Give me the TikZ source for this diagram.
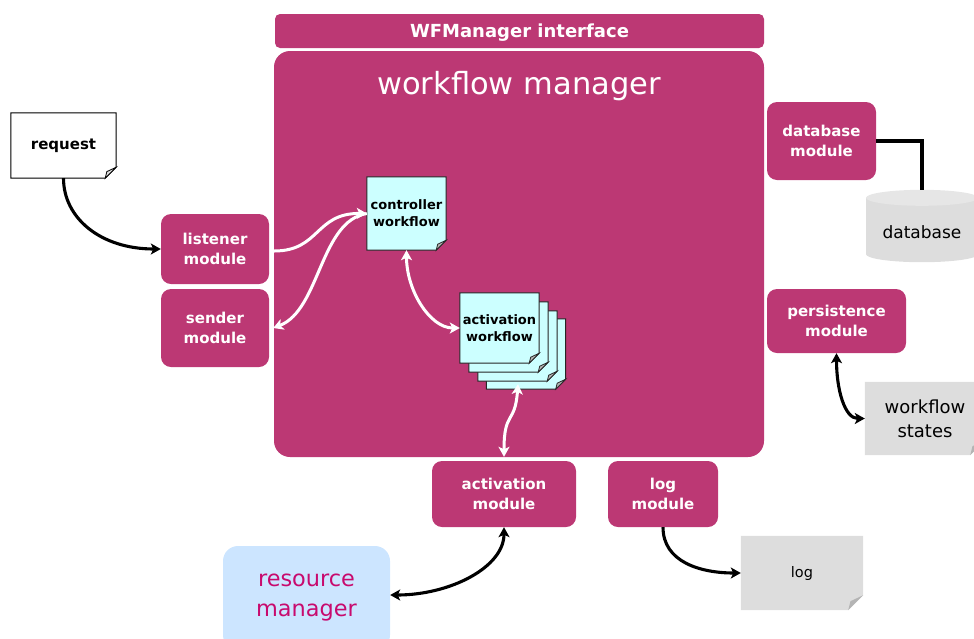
\documentclass[tikz,border=0pt]{standalone}
\usepackage{fontspec}
\setmainfont{DejaVu Sans}
\usetikzlibrary{arrows.meta,calc}

\definecolor{wfmag}{HTML}{BC3874}
\definecolor{wfcyan}{HTML}{CCFFFF}
\definecolor{wfgray}{HTML}{DDDDDD}
\definecolor{wftop}{HTML}{E6E6E6}
\definecolor{wffold}{HTML}{B4B4B4}
\definecolor{rmblue}{HTML}{CCE5FF}
\definecolor{rmtext}{HTML}{C80A6E}

\pgfdeclarelayer{back}
\pgfdeclarelayer{sheets}
\pgfsetlayers{back,sheets,main}

% folded-corner sheet drawn around node #1, shifted by (#2,#3), fold size #4
\newcommand\docsheet[6]{%
  \path[#5] ($(#1.north west)+(#2,#3)$) -- ($(#1.north east)+(#2,#3)$)
    -- ($(#1.south east)+(#2,#3-#4)$) -- ($(#1.south east)+(#2-#4,#3)$)
    -- ($(#1.south west)+(#2,#3)$) -- cycle;
  \path[#6] ($(#1.south east)+(#2,#3-#4)$) -- ($(#1.south east)+(#2-#4,#3)$)
    -- ($(#1.south east)+(#2-0.85*#4,#3-0.6*#4)$) -- cycle;
}

\tikzset{
  modbox/.style={fill=wfmag, text=white, rounded corners=10pt, align=center,
    inner sep=0pt, font=\fontsize{15}{20}\selectfont\bfseries},
  docnode/.style={inner sep=0pt, align=center},
  wfdoc/.style={docnode, minimum width=79pt, font=\fontsize{13}{17}\selectfont\bfseries},
  cyansheet/.style={fill=wfcyan, draw=black!85, line width=1pt},
  cyanfold/.style={fill=wffold, draw=black!85, line width=0.8pt},
  wire/.style={line width=3.1pt, black},
  wwire/.style={line width=3pt, white},
  >={Stealth[length=10pt,width=11pt,inset=2.5pt]}
}

\begin{document}
\begin{tikzpicture}[x=1pt,y=-1pt]
\useasboundingbox (0,0) rectangle (974,638);

% manager frame and interface bar
\begin{pgfonlayer}{back}
  \node[fill=wfmag, rounded corners=16pt, minimum width=490pt, minimum height=406pt,
        inner sep=0pt] (wfm) at (519,254) {};
\end{pgfonlayer}
\node[fill=wfmag, rounded corners=5pt, minimum width=489pt, minimum height=34pt, inner sep=0pt]
  (iface) at (519.5,31) {};
\node[text=white, inner sep=0pt, font=\fontsize{18}{22}\selectfont\bfseries]
  (ifacetext) at (519.5,33) {WFManager interface};
\node[text=white, inner sep=0pt, font=\fontsize{30.5}{36}\selectfont] (wfmtitle) at (519,86) {workflow manager};

% modules
\node[modbox, minimum width=108pt, minimum height=70pt] (listener) at (215,249) {listener\\module};
\node[modbox, minimum width=108pt, minimum height=78pt] (sender) at (215,328) {sender\\module};
\node[modbox, minimum width=109pt, minimum height=78pt] (dbmod) at (821.5,141) {database\\module};
\node[modbox, minimum width=139pt, minimum height=64pt] (persist) at (836.5,321) {persistence\\module};
\node[modbox, minimum width=144pt, minimum height=66pt] (actmod) at (504,494) {activation\\module};
\node[modbox, minimum width=110pt, minimum height=66pt] (logmod) at (663,494) {log\\module};

% resource manager
\node[fill=rmblue, text=rmtext, rounded corners=15pt, minimum width=167pt, minimum height=104pt,
      align=center, inner sep=0pt, font=\fontsize{22.4}{30}\selectfont] (resmgr) at (306.5,598) {resource\\manager};

% documents
\node[docnode, minimum width=105pt, minimum height=65pt, font=\fontsize{15}{18}\selectfont\bfseries]
  (request) at (63.5,145.5) {request};
\node[wfdoc, minimum height=73pt] (ctrlwf) at (406.5,213.5) {controller\\workflow};
\node[wfdoc, minimum height=70pt] (actwf) at (499.5,328) {activation\\workflow};
\node[docnode, minimum width=122pt, minimum height=74pt, font=\fontsize{14.5}{18}\selectfont] (log) at (802,573) {log};
\node[docnode, minimum width=120pt, minimum height=73pt, font=\fontsize{18}{24}\selectfont] (wfstates) at (925,418.5) {workflow\\states};

% database cylinder
\node[inner sep=0pt, minimum width=112pt, minimum height=72pt] (database) at (922,226) {};
\node[inner sep=0pt, font=\fontsize{17}{20}\selectfont] (dbtext) at (922,232) {database};

\begin{pgfonlayer}{sheets}
  \docsheet{request}{0}{0}{11}{fill=white,draw=black,line width=1pt}{fill=wfgray,draw=black,line width=0.8pt}
  \docsheet{ctrlwf}{0}{0}{10}{cyansheet}{cyanfold}
  \docsheet{actwf}{26.5}{26}{10}{cyansheet}{cyanfold}
  \docsheet{actwf}{18}{18}{10}{cyansheet}{cyanfold}
  \docsheet{actwf}{9}{9}{10}{cyansheet}{cyanfold}
  \docsheet{actwf}{0}{0}{10}{cyansheet}{cyanfold}
  \docsheet{log}{0}{0}{15}{fill=wfgray}{fill=wffold}
  \docsheet{wfstates}{0}{0}{15}{fill=wfgray}{fill=wffold}
  \fill[wfgray] ($(database.north west)+(0,8)$) rectangle ($(database.south east)+(0,-8)$);
  \fill[wfgray] ($(database.south)+(0,-8)$) ellipse [x radius=56pt, y radius=8pt];
  \fill[wftop] ($(database.north)+(0,8)$) ellipse [x radius=56pt, y radius=8pt];
\end{pgfonlayer}

% connectors outside the manager
\draw[wire,->] (request.south) .. controls +(0,40) and +(-60,0) .. (listener.west);
\draw[wire] (dbmod.east) -| (database.north);
\draw[wire,<->] (persist.south) .. controls +(0,37) and +(-20,0) .. (wfstates.west);
\draw[wire,<->] (actmod.south) .. controls +(0,40) and +(60,0) .. ([yshift=3pt]resmgr.east);
\draw[wire,->] (logmod.south) .. controls +(0,35) and +(-40,0) .. (log.west);

% connectors inside the manager
\draw[wwire,->] ([xshift=5pt,yshift=-2pt]listener.east) .. controls (320,251) and (315,213) .. (ctrlwf.west);
\draw[wwire,->] (ctrlwf.west) .. controls (320,221) and (320,310) .. ([xshift=4pt]sender.east);
\draw[wwire,<->] (ctrlwf.south) .. controls +(0,40) and +(-30,0) .. (actwf.west);
\draw[wwire,<->] ($(actwf.south)+(18.5,21)$) .. controls +(-3,41) and +(0,-47) .. ([yshift=4pt]actmod.north);
\end{tikzpicture}
\end{document}
